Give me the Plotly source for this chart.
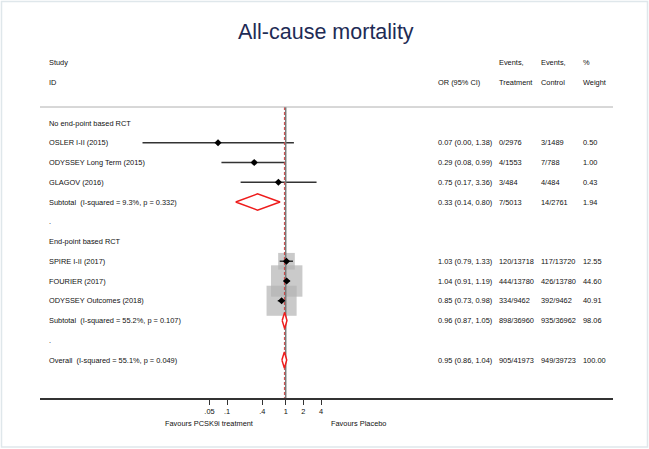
import plotly.graph_objects as go
import numpy as np

# study level data
study_names = ["OSLER I-II (2015)", "ODYSSEY Long Term (2015)", "GLAGOV (2016)",
               "SPIRE I-II (2017)", "FOURIER (2017)", "ODYSSEY Outcomes (2018)"]
study_rows = [1, 2, 3, 7, 8, 9]
or_est = [0.07, 0.29, 0.75, 1.03, 1.04, 0.85]
ci_low = [0.0036, 0.08, 0.17, 0.79, 0.91, 0.73]
ci_high = [1.38, 0.99, 3.36, 1.33, 1.19, 0.98]
events_trt = ["0/2976", "4/1553", "3/484", "120/13718", "444/13780", "334/9462"]
events_ctl = ["3/1489", "7/788", "4/484", "117/13720", "426/13780", "392/9462"]
weights = [0.50, 1.00, 0.43, 12.55, 44.60, 40.91]

# pooled estimates
pooled_names = ["Subtotal\u00a0 (I-squared = 9.3%, p = 0.332)",
                "Subtotal\u00a0 (I-squared = 55.2%, p = 0.107)",
                "Overall\u00a0 (I-squared = 55.1%, p = 0.049)"]
pooled_rows = [4, 10, 12]
pooled_est = [0.33, 0.96, 0.95]
pooled_low = [0.14, 0.87, 0.86]
pooled_high = [0.80, 1.05, 1.04]
pooled_trt = ["7/5013", "898/36960", "905/41973"]
pooled_ctl = ["14/2761", "935/36962", "949/39723"]
pooled_weights = [1.94, 98.06, 100.00]

# group labels / spacer rows
group_names = ["No end-point based RCT", "End-point based RCT", ".", "."]
group_rows = [0, 6, 5, 11]

overall_est = 0.95
tick_vals = [0.05, 0.1, 0.4, 1, 2, 4]
tick_text = [".05", ".1", ".4", "1", "2", "4"]

FONT = "Liberation Sans, Arial, sans-serif"
TXT = "#111111"
FS = 7.4

fig = go.Figure()

# weight boxes
fig.add_trace(go.Scatter(
    x=or_est, y=study_rows, mode="markers",
    marker=dict(symbol="square", size=[4.7 * np.sqrt(w) for w in weights],
                color="#b3b3b3", line=dict(width=0)),
    hoverinfo="skip"))

# confidence intervals
cx, cy = [], []
for lo, hi, r in zip(ci_low, ci_high, study_rows):
    cx += [lo, hi, None]
    cy += [r, r, None]
fig.add_trace(go.Scatter(x=cx, y=cy, mode="lines",
                         line=dict(color="#333333", width=1.5), hoverinfo="skip"))

# null line and overall line
y_top, y_bot = -0.81, 13.92
fig.add_trace(go.Scatter(x=[1, 1], y=[y_top, y_bot], mode="lines",
                         line=dict(color="#7a7a7a", width=1.5), hoverinfo="skip"))
fig.add_trace(go.Scatter(x=[overall_est, overall_est], y=[y_top, y_bot], mode="lines",
                         line=dict(color="#cc4444", width=1, dash="3px,2px"), hoverinfo="skip"))

# point estimates
fig.add_trace(go.Scatter(x=or_est, y=study_rows, mode="markers",
                         marker=dict(symbol="diamond", size=5.5, color="black"),
                         hoverinfo="skip"))

# pooled diamonds
h = 0.41
for e, lo, hi, r in zip(pooled_est, pooled_low, pooled_high, pooled_rows):
    fig.add_trace(go.Scatter(x=[lo, e, hi, e, lo], y=[r, r - h, r, r + h, r],
                             mode="lines", fill="toself", fillcolor="white",
                             line=dict(color="#ee1c1c", width=1.5), hoverinfo="skip"))

# text columns (paper x positions)
def px(p):
    return (p - 40) / 573

col_study, col_or, col_trt, col_ctl, col_w = px(47), px(436), px(497), px(539), px(581)

ann = []
def txt(x, y, s, yref="y", anchor="left"):
    ann.append(dict(x=x, y=y, xref="paper", yref=yref, text=s, showarrow=False,
                    xanchor=anchor, yanchor="middle",
                    font=dict(family=FONT, size=FS, color=TXT)))

# headers
txt(col_study, -3.04, "Study")
txt(col_study, -2.03, "ID")
txt(col_or, -2.03, "OR (95% CI)")
txt(col_trt, -3.04, "Events,")
txt(col_trt, -2.03, "Treatment")
txt(col_ctl, -3.04, "Events,")
txt(col_ctl, -2.03, "Control")
txt(col_w, -3.04, "%")
txt(col_w, -2.03, "Weight")

for s, r in zip(group_names, group_rows):
    txt(col_study, r, s)

for i in range(len(study_names)):
    r = study_rows[i]
    txt(col_study, r, study_names[i])
    txt(col_or, r, f"{or_est[i]:.2f} ({ci_low[i]:.2f}, {ci_high[i]:.2f})")
    txt(col_trt, r, events_trt[i])
    txt(col_ctl, r, events_ctl[i])
    txt(col_w, r, f"{weights[i]:.2f}")

for i in range(len(pooled_names)):
    r = pooled_rows[i]
    txt(col_study, r, pooled_names[i])
    txt(col_or, r, f"{pooled_est[i]:.2f} ({pooled_low[i]:.2f}, {pooled_high[i]:.2f})")
    txt(col_trt, r, pooled_trt[i])
    txt(col_ctl, r, pooled_ctl[i])
    txt(col_w, r, f"{pooled_weights[i]:.2f}")

# favours labels
ann.append(dict(x=px(255), y=-25 / 398, xref="paper", yref="paper", showarrow=False,
                text="Favours PCSK9i treatment", xanchor="right", yanchor="middle",
                font=dict(family=FONT, size=FS, color=TXT)))
ann.append(dict(x=px(329), y=-25 / 398, xref="paper", yref="paper", showarrow=False,
                text="Favours Placebo", xanchor="left", yanchor="middle",
                font=dict(family=FONT, size=FS, color=TXT)))

shapes = [
    # top rule
    dict(type="line", xref="paper", yref="y", x0=0, x1=1, y0=y_top, y1=y_top,
         line=dict(color="#b0b0b0", width=1)),
    # outer frame
    dict(type="rect", xref="paper", yref="paper", x0=px(1.5), x1=px(647.5),
         y0=(398 - 447) / 398, y1=(398 - 1.5) / 398,
         line=dict(color="#dfe7eb", width=1.5)),
]

fig.update_layout(
    width=649, height=449,
    margin=dict(l=40, r=36, t=0, b=51),
    paper_bgcolor="white", plot_bgcolor="white",
    showlegend=False, hovermode=False,
    title=dict(text="All-cause mortality", x=0.502, xanchor="center",
               y=1 - 31 / 449, yanchor="middle", yref="container",
               font=dict(family=FONT, size=21.5, color="#1e2b55")),
    xaxis=dict(type="log", range=[-4.193, 5.585], showgrid=False, zeroline=False,
               showline=True, linecolor="#333333", linewidth=1.5,
               ticks="outside", ticklen=5, tickwidth=1, tickcolor="#333333",
               tickvals=tick_vals, ticktext=tick_text,
               tickfont=dict(family=FONT, size=FS, color=TXT)),
    yaxis=dict(range=[13.924, -6.228], visible=False),
    annotations=ann, shapes=shapes,
)

# drop the default page margin so the figure sits at the window's corner
fig.write_html("out.html", config={"displayModeBar": False},
               post_script="document.body.style.margin = '0';")
